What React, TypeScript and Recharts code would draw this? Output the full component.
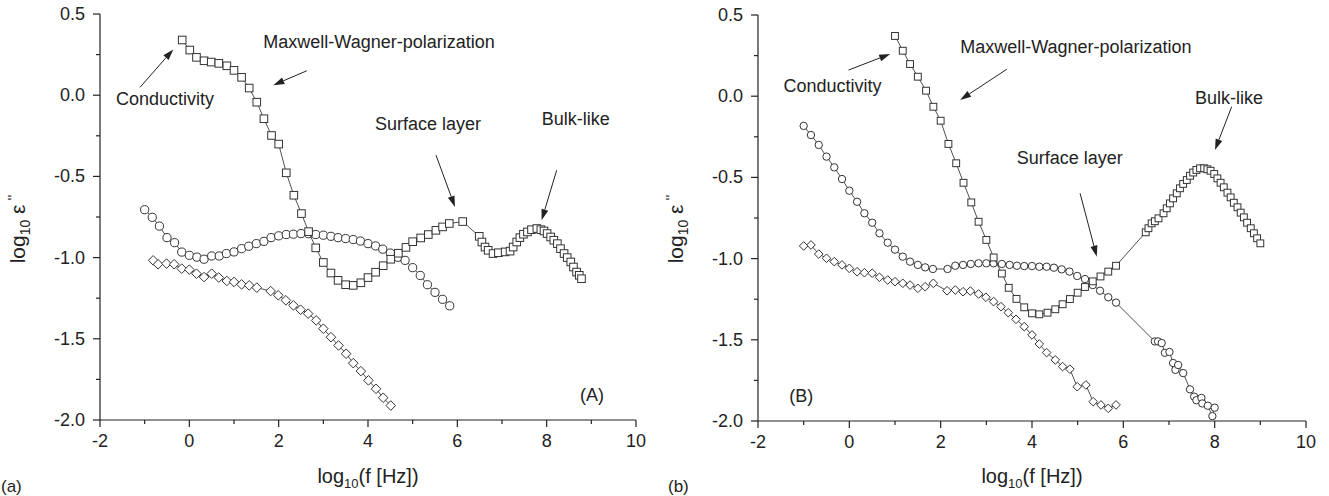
import React from 'react';
import { ScatterChart, Scatter, XAxis, YAxis, ReferenceLine, ReferenceDot } from 'recharts';

type Pt = [number, number];
type Note = { text: string; at: Pt; from: Pt; to: Pt };

const FONT = '"Liberation Sans", Arial, Helvetica, sans-serif';
const INK = '#222';

const xTicks = [-2, -1, 0, 1, 2, 3, 4, 5, 6, 7, 8, 9, 10];
const yTicks = [0.5, 0.25, 0, -0.25, -0.5, -0.75, -1, -1.25, -1.5, -1.75, -2];

// panel (A)
const aSquares: Pt[] = [
  [-0.16, 0.34], [0.01, 0.278], [0.16, 0.233], [0.33, 0.212], [0.49, 0.204], [0.66, 0.196],
  [0.84, 0.181], [1.0, 0.153], [1.17, 0.11], [1.34, 0.044], [1.51, -0.043], [1.67, -0.145],
  [1.84, -0.248], [2.0, -0.301], [2.17, -0.478], [2.34, -0.616], [2.51, -0.729], [2.67, -0.84],
  [2.83, -0.94], [3.0, -1.03], [3.17, -1.095], [3.33, -1.14], [3.5, -1.167], [3.67, -1.171],
  [3.84, -1.155], [4.0, -1.123], [4.17, -1.09], [4.34, -1.05], [4.51, -1.01], [4.68, -0.973],
  [4.85, -0.937], [5.0, -0.902], [5.18, -0.879], [5.35, -0.858], [5.52, -0.832], [5.67, -0.811],
  [5.82, -0.79], [6.12, -0.778], [6.49, -0.869], [6.55, -0.904], [6.62, -0.935], [6.69, -0.955],
  [6.8, -0.975], [6.92, -0.97], [7.07, -0.965], [7.18, -0.96], [7.25, -0.935], [7.33, -0.904],
  [7.4, -0.877], [7.48, -0.856], [7.57, -0.842], [7.66, -0.828], [7.78, -0.821], [7.87, -0.828],
  [7.94, -0.836], [8.01, -0.852], [8.09, -0.873], [8.16, -0.893], [8.24, -0.914], [8.31, -0.945],
  [8.39, -0.975], [8.46, -1.0], [8.54, -1.027], [8.6, -1.058], [8.67, -1.089], [8.73, -1.109],
  [8.78, -1.13],
];
const aCircles: Pt[] = [
  [-1.0, -0.705], [-0.83, -0.752], [-0.67, -0.806], [-0.5, -0.877], [-0.33, -0.908], [-0.17, -0.966],
  [0.0, -0.986], [0.17, -0.997], [0.33, -1.01], [0.5, -0.99], [0.67, -0.99], [0.83, -0.975],
  [1.0, -0.965], [1.17, -0.945], [1.33, -0.93], [1.5, -0.914], [1.67, -0.9], [1.83, -0.877],
  [2.0, -0.866], [2.17, -0.858], [2.33, -0.856], [2.5, -0.852], [2.67, -0.853], [2.83, -0.858],
  [3.0, -0.862], [3.17, -0.869], [3.33, -0.877], [3.5, -0.883], [3.67, -0.889], [3.83, -0.898],
  [4.0, -0.914], [4.17, -0.928], [4.33, -0.948], [4.5, -0.972], [4.67, -0.998], [4.83, -1.017],
  [5.0, -1.062], [5.17, -1.11], [5.33, -1.167], [5.5, -1.214], [5.67, -1.257], [5.83, -1.297],
];
const aDiamonds: Pt[] = [
  [-0.81, -1.017], [-0.7, -1.041], [-0.51, -1.037], [-0.34, -1.041], [-0.17, -1.068], [0.0, -1.074],
  [0.16, -1.099], [0.33, -1.12], [0.5, -1.099], [0.66, -1.123], [0.84, -1.144], [1.0, -1.15],
  [1.17, -1.165], [1.34, -1.171], [1.51, -1.185], [1.82, -1.206], [1.99, -1.232], [2.16, -1.263],
  [2.33, -1.294], [2.49, -1.321], [2.66, -1.345], [2.84, -1.387], [3.0, -1.438], [3.17, -1.49],
  [3.34, -1.541], [3.51, -1.592], [3.67, -1.65], [3.84, -1.699], [4.01, -1.756], [4.18, -1.808],
  [4.34, -1.863], [4.51, -1.911],
];
const aNotes: Note[] = [
  { text: 'Conductivity', at: [-1.64, -0.061], from: [-1.105, 0.048], to: [-0.36, 0.282] },
  { text: 'Maxwell-Wagner-polarization', at: [1.656, 0.29], from: [2.627, 0.15], to: [1.88, 0.062] },
  { text: 'Surface layer', at: [4.156, -0.215], from: [5.522, -0.369], to: [5.947, -0.688] },
  { text: 'Bulk-like', at: [7.888, -0.184], from: [8.224, -0.462], to: [7.888, -0.77] },
];
const aTag: Pt = [8.746, -1.88];

// panel (B)
const bSquares: Pt[] = [
  [1.0, 0.371], [1.17, 0.28], [1.33, 0.198], [1.5, 0.12], [1.68, 0.034], [1.84, -0.065],
  [2.0, -0.151], [2.17, -0.294], [2.34, -0.413], [2.5, -0.533], [2.67, -0.654], [2.83, -0.773],
  [3.0, -0.885], [3.16, -0.993], [3.34, -1.092], [3.49, -1.18], [3.66, -1.248], [3.83, -1.3],
  [4.0, -1.337], [4.16, -1.343], [4.34, -1.333], [4.51, -1.312], [4.67, -1.281], [4.83, -1.249],
  [5.0, -1.21], [5.16, -1.175], [5.33, -1.14], [5.5, -1.11], [5.67, -1.08], [5.84, -1.044],
  [6.49, -0.838], [6.55, -0.813], [6.62, -0.783], [6.69, -0.77], [6.77, -0.752], [6.88, -0.721],
  [6.95, -0.69], [7.02, -0.66], [7.09, -0.629], [7.17, -0.598], [7.24, -0.567], [7.31, -0.54],
  [7.39, -0.516], [7.46, -0.49], [7.53, -0.47], [7.6, -0.454], [7.68, -0.444], [7.77, -0.444],
  [7.84, -0.45], [7.91, -0.459], [7.99, -0.479], [8.06, -0.506], [8.13, -0.533], [8.2, -0.561],
  [8.28, -0.594], [8.35, -0.623], [8.42, -0.656], [8.5, -0.684], [8.57, -0.717], [8.64, -0.746],
  [8.71, -0.779], [8.79, -0.813], [8.86, -0.844], [8.93, -0.875], [9.0, -0.906],
];
const bCircles: Pt[] = [
  [-1.0, -0.183], [-0.84, -0.239], [-0.67, -0.3], [-0.5, -0.372], [-0.33, -0.438], [-0.16, -0.51],
  [0.0, -0.582], [0.17, -0.65], [0.33, -0.721], [0.5, -0.779], [0.66, -0.844], [0.84, -0.902],
  [1.0, -0.945], [1.17, -0.988], [1.33, -1.019], [1.5, -1.039], [1.66, -1.054], [1.83, -1.064],
  [2.15, -1.064], [2.32, -1.044], [2.49, -1.039], [2.66, -1.033], [2.83, -1.029], [3.0, -1.029],
  [3.16, -1.029], [3.34, -1.033], [3.51, -1.039], [3.67, -1.044], [3.83, -1.046], [4.0, -1.046],
  [4.16, -1.05], [4.32, -1.05], [4.48, -1.056], [4.65, -1.066], [4.82, -1.08], [4.99, -1.107],
  [5.16, -1.126], [5.33, -1.163], [5.49, -1.198], [5.67, -1.238], [5.84, -1.271],
  [6.69, -1.51], [6.76, -1.51], [6.84, -1.52], [6.91, -1.58], [7.01, -1.575], [7.09, -1.643],
  [7.14, -1.685], [7.2, -1.655], [7.31, -1.705], [7.46, -1.805], [7.55, -1.85], [7.6, -1.872],
  [7.71, -1.858], [7.73, -1.892], [7.85, -1.906], [7.95, -1.97], [8.0, -1.918],
];
const bDiamonds: Pt[] = [
  [-1.0, -0.922], [-0.84, -0.916], [-0.67, -0.972], [-0.5, -0.998], [-0.33, -1.019], [-0.16, -1.039],
  [0.0, -1.06], [0.17, -1.081], [0.33, -1.087], [0.5, -1.09], [0.66, -1.115], [0.84, -1.132],
  [1.0, -1.142], [1.17, -1.152], [1.33, -1.163], [1.5, -1.183], [1.66, -1.173], [1.84, -1.152],
  [2.14, -1.198], [2.32, -1.193], [2.49, -1.204], [2.65, -1.2], [2.83, -1.218], [2.99, -1.238],
  [3.16, -1.265], [3.32, -1.296], [3.48, -1.333], [3.65, -1.374], [3.83, -1.419], [4.0, -1.47],
  [4.16, -1.526], [4.32, -1.579], [4.51, -1.624], [4.67, -1.665], [4.83, -1.681], [4.99, -1.789],
  [5.18, -1.778], [5.34, -1.881], [5.51, -1.901], [5.67, -1.922], [5.84, -1.901],
];
const bNotes: Note[] = [
  { text: 'Conductivity', at: [-1.44, 0.028], from: [-0.017, 0.161], to: [0.895, 0.26] },
  { text: 'Maxwell-Wagner-polarization', at: [2.427, 0.266], from: [3.449, 0.166], to: [2.427, -0.023] },
  { text: 'Surface layer', at: [3.667, -0.417], from: [5.053, -0.598], to: [5.418, -0.988] },
  { text: 'Bulk-like', at: [7.569, -0.048], from: [8.372, -0.065], to: [8.007, -0.331] },
];
const bTag: Pt = [-1.315, -1.883];

const toRows = (pts: Pt[]) => pts.map(([x, y]) => ({ x, y }));

const isMajorY = (v: number) => Math.abs(v * 2 - Math.round(v * 2)) < 1e-9;

const BottomTick = (p: any) => {
  const v = p.payload.value;
  const major = v % 2 === 0;
  return (
    <g>
      <line x1={p.x} y1={p.y} x2={p.x} y2={p.y + (major ? 7 : 4)} stroke={INK} strokeWidth={1.2} />
      {major && (
        <text x={p.x} y={p.y + 27} textAnchor="middle" fontSize={18} fontFamily={FONT} fill={INK}>
          {v}
        </text>
      )}
    </g>
  );
};

const TopTick = (p: any) => {
  const major = p.payload.value % 2 === 0;
  return <line x1={p.x} y1={p.y} x2={p.x} y2={p.y + (major ? 4 : 3)} stroke={INK} strokeWidth={1.2} />;
};

const LeftTick = (p: any) => {
  const v = p.payload.value;
  const major = isMajorY(v);
  return (
    <g>
      <line x1={p.x} y1={p.y} x2={p.x - (major ? 7 : 4)} y2={p.y} stroke={INK} strokeWidth={1.2} />
      {major && (
        <text x={p.x - 15} y={p.y + 6} textAnchor="end" fontSize={18} fontFamily={FONT} fill={INK}>
          {v.toFixed(1)}
        </text>
      )}
    </g>
  );
};

const RightTick = (p: any) => {
  const major = isMajorY(p.payload.value);
  return <line x1={p.x} y1={p.y} x2={p.x - (major ? 4 : 3)} y2={p.y} stroke={INK} strokeWidth={1.2} />;
};

const Arrow = (p: any) => {
  const { x1, y1, x2, y2 } = p;
  const a = Math.atan2(y2 - y1, x2 - x1);
  const len = 11;
  const half = 3.5;
  const bx = x2 - len * Math.cos(a);
  const by = y2 - len * Math.sin(a);
  const nx = -Math.sin(a) * half;
  const ny = Math.cos(a) * half;
  return (
    <g>
      <line x1={x1} y1={y1} x2={bx} y2={by} stroke={INK} strokeWidth={1} />
      <polygon points={`${x2},${y2} ${bx + nx},${by + ny} ${bx - nx},${by - ny}`} fill={INK} />
    </g>
  );
};

const noteText = (text: string) => (p: any) => (
  <text x={p.cx} y={p.cy} fontSize={18} fontFamily={FONT} fill={INK}>
    {text}
  </text>
);

const markStroke = '#333';

function makeShapes(s: number) {
  const Square = (p: any) => (
    <rect x={p.cx - 3.8 * s} y={p.cy - 3.8 * s} width={7.6 * s} height={7.6 * s} fill="#fff" stroke={markStroke} strokeWidth={1} />
  );
  const Circle = (p: any) => <circle cx={p.cx} cy={p.cy} r={4.1 * s} fill="#fff" stroke={markStroke} strokeWidth={1} />;
  const Diamond = (p: any) => {
    const d = 4.8 * s;
    return (
      <polygon
        points={`${p.cx},${p.cy - d} ${p.cx + d},${p.cy} ${p.cx},${p.cy + d} ${p.cx - d},${p.cy}`}
        fill="#fff"
        stroke={markStroke}
        strokeWidth={1}
      />
    );
  };
  return { Square, Circle, Diamond };
}

type PanelProps = {
  width: number;
  margin: { top: number; right: number; bottom: number; left: number };
  squares: Pt[];
  circles: Pt[];
  diamonds: Pt[];
  notes: Note[];
  tag: Pt;
  tagText: string;
  markScale: number;
};

function Panel({ width, margin, squares, circles, diamonds, notes, tag, tagText, markScale }: PanelProps) {
  const { Square, Circle, Diamond } = makeShapes(markScale);
  const lineStyle = { stroke: INK, strokeWidth: 0.8 };
  return (
    <ScatterChart width={width} height={496} margin={margin}>
      <XAxis
        type="number"
        dataKey="x"
        domain={[-2, 10]}
        ticks={xTicks}
        interval={0}
        tickSize={0}
        tickMargin={0}
        tickLine={false}
        tick={BottomTick}
        height={40}
        axisLine={{ stroke: INK, strokeWidth: 1.2 }}
        allowDataOverflow
      />
      <XAxis
        xAxisId="t"
        orientation="top"
        type="number"
        domain={[-2, 10]}
        ticks={xTicks}
        interval={0}
        tickSize={0}
        tickMargin={0}
        tickLine={false}
        tick={TopTick}
        height={0}
        axisLine={{ stroke: INK, strokeWidth: 1.2 }}
        allowDataOverflow
      />
      <YAxis
        type="number"
        dataKey="y"
        domain={[-2, 0.5]}
        ticks={yTicks}
        interval={0}
        tickSize={0}
        tickMargin={0}
        tickLine={false}
        tick={LeftTick}
        width={60}
        axisLine={{ stroke: INK, strokeWidth: 1.2 }}
        allowDataOverflow
      />
      <YAxis
        yAxisId="r"
        orientation="right"
        type="number"
        domain={[-2, 0.5]}
        ticks={yTicks}
        interval={0}
        tickSize={0}
        tickMargin={0}
        tickLine={false}
        tick={RightTick}
        width={0}
        axisLine={{ stroke: INK, strokeWidth: 1.2 }}
        allowDataOverflow
      />
      <Scatter data={toRows(diamonds)} line={lineStyle} shape={Diamond} isAnimationActive={false} />
      <Scatter data={toRows(circles)} line={lineStyle} shape={Circle} isAnimationActive={false} />
      <Scatter data={toRows(squares)} line={lineStyle} shape={Square} isAnimationActive={false} />
      {notes.map((n) => (
        <ReferenceLine
          key={`arrow-${n.text}`}
          segment={[
            { x: n.from[0], y: n.from[1] },
            { x: n.to[0], y: n.to[1] },
          ]}
          shape={Arrow}
        />
      ))}
      {notes.map((n) => (
        <ReferenceDot key={`note-${n.text}`} x={n.at[0]} y={n.at[1]} r={0} shape={noteText(n.text)} />
      ))}
      <ReferenceDot x={tag[0]} y={tag[1]} r={0} shape={noteText(tagText)} />
    </ScatterChart>
  );
}

function Titles() {
  const xTitle = (cx: number) => (
    <text x={cx} y={483} textAnchor="middle" fontSize={20} fontFamily={FONT} fill={INK}>
      log
      <tspan dy={5} fontSize={13}>
        10
      </tspan>
      <tspan dy={-5}>(f [Hz])</tspan>
    </text>
  );
  const yTitle = (x: number) => (
    <text transform={`translate(${x},229) rotate(-90)`} textAnchor="middle" fontSize={21} fontFamily={FONT} fill={INK}>
      log
      <tspan dy={5} fontSize={14}>
        10
      </tspan>
      <tspan dy={-5}>{'\u00a0ε'}</tspan>
      <tspan dy={-7} fontSize={15}>
        {'\u00a0\'\''}
      </tspan>
    </text>
  );
  return (
    <svg width={1329} height={496} style={{ position: 'absolute', left: 0, top: 0, pointerEvents: 'none' }}>
      {xTitle(368)}
      {xTitle(1032)}
      {yTitle(25)}
      {yTitle(683)}
      <text x={1} y={492} fontSize={17} fontFamily={FONT} fill={INK}>
        (a)
      </text>
      <text x={668} y={492} fontSize={17} fontFamily={FONT} fill={INK}>
        (b)
      </text>
    </svg>
  );
}

export default function App() {
  return (
    <div style={{ position: 'absolute', left: 0, top: 0, width: 1329, height: 496, background: '#fff', fontFamily: FONT }}>
      <div style={{ position: 'absolute', left: 0, top: 0 }}>
        <Panel
          width={660}
          margin={{ top: 14, right: 24, bottom: 36, left: 40 }}
          squares={aSquares}
          circles={aCircles}
          diamonds={aDiamonds}
          notes={aNotes}
          tag={aTag}
          tagText="(A)"
          markScale={1}
        />
      </div>
      <div style={{ position: 'absolute', left: 660, top: 0 }}>
        <Panel
          width={669}
          margin={{ top: 15, right: 23, bottom: 35, left: 38 }}
          squares={bSquares}
          circles={bCircles}
          diamonds={bDiamonds}
          notes={bNotes}
          tag={bTag}
          tagText="(B)"
          markScale={0.9}
        />
      </div>
      <Titles />
    </div>
  );
}
